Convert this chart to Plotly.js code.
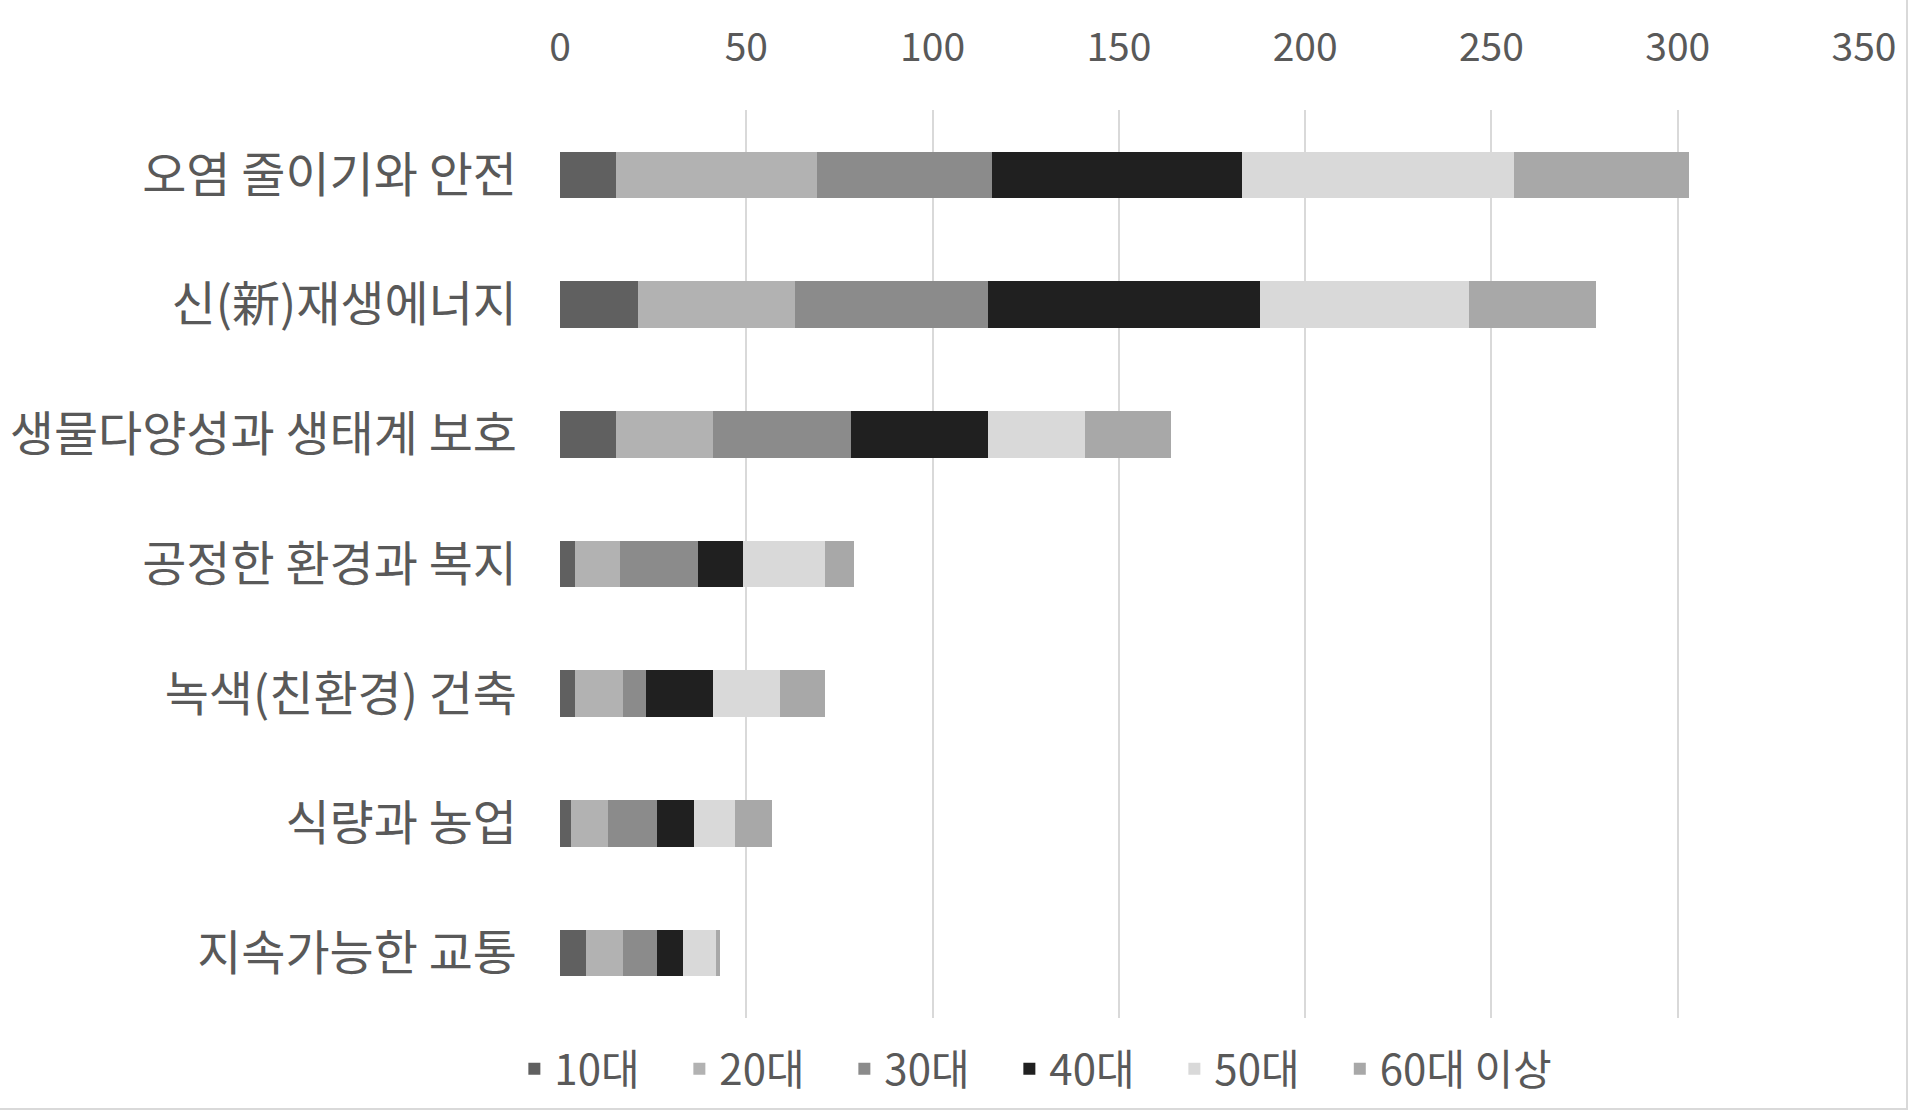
<!DOCTYPE html>
<html>
<head>
<meta charset="utf-8">
<script src="https://cdn.plot.ly/plotly-3.0.1.min.js"></script>
<style>
  body { margin: 0; background: #fff; }
  #chart { width: 1920px; height: 1115px; }
  #frame {
    position: absolute; left: 0; top: 0;
    width: 1906px; height: 1108px;
    border-right: 2px solid #d9d9d9;
    border-bottom: 2px solid #d9d9d9;
    pointer-events: none;
  }
</style>
</head>
<body>
<div id="chart"></div>
<div id="frame"></div>
<script>
// categories, top to bottom
const categories = [
  '오염 줄이기와 안전',
  '신(新)재생에너지',
  '생물다양성과 생태계 보호',
  '공정한 환경과 복지',
  '녹색(친환경) 건축',
  '식량과 농업',
  '지속가능한 교통'
];

const ageGroups = ['10대', '20대', '30대', '40대', '50대', '60대 이상'];
const ageColors = ['#606060', '#b2b2b2', '#8b8b8b', '#202020', '#d9d9d9', '#a8a8a8'];

// counts per age group, same order as categories
const teens   = [15, 21, 15, 4, 4, 3, 7];
const twenties = [54, 42, 26, 12, 13, 10, 10];
const thirties = [47, 52, 37, 21, 6, 13, 9];
const forties  = [67, 73, 37, 12, 18, 10, 7];
const fifties  = [73, 56, 26, 22, 18, 11, 9];
const sixtiesPlus = [47, 34, 23, 8, 12, 10, 1];

const xTicks = [0, 50, 100, 150, 200, 250, 300, 350];

const seriesData = [teens, twenties, thirties, forties, fifties, sixtiesPlus];

// last group goes into its own legend so its longer label isn't cut by entrywidth
const traces = seriesData.map((vals, i) => ({
  type: 'bar',
  orientation: 'h',
  name: ageGroups[i],
  x: vals,
  y: categories,
  marker: { color: ageColors[i], line: { width: 0 } },
  legend: i === seriesData.length - 1 ? 'legend2' : 'legend',
  hoverinfo: 'x+name'
}));

const legendFont = { size: 42, color: '#595959' };

const layout = {
  barmode: 'stack',
  bargap: 0.64,
  width: 1920,
  height: 1115,
  paper_bgcolor: '#ffffff',
  plot_bgcolor: '#ffffff',
  font: { family: '"Noto Sans CJK KR", "Noto Sans", sans-serif', color: '#595959' },
  margin: { l: 560, r: 56, t: 110, b: 91 },
  xaxis: {
    side: 'top',
    range: [0, 350],
    tickmode: 'array',
    tickvals: xTicks,
    ticks: '',
    ticklabelstandoff: 40,
    tickfont: { size: 39, color: '#595959' },
    showgrid: true,
    gridcolor: '#d9d9d9',
    gridwidth: 2,
    zeroline: false,
    showline: false,
    fixedrange: true
  },
  yaxis: {
    autorange: 'reversed',
    ticks: '',
    ticklabelstandoff: 42,
    tickfont: { size: 48, color: '#595959' },
    showgrid: false,
    showline: false,
    zeroline: false,
    fixedrange: true
  },
  showlegend: true,
  legend: {
    orientation: 'h',
    xref: 'paper',
    x: -0.035,
    xanchor: 'left',
    y: -0.056,
    yanchor: 'middle',
    traceorder: 'normal',
    font: legendFont,
    itemwidth: 30,
    entrywidth: 120,
    itemclick: false,
    itemdoubleclick: false
  },
  legend2: {
    orientation: 'h',
    xref: 'paper',
    x: 0.598,
    xanchor: 'left',
    y: -0.056,
    yanchor: 'middle',
    font: legendFont,
    itemwidth: 30,
    itemclick: false,
    itemdoubleclick: false
  }
};

Plotly.newPlot('chart', traces, layout, { displayModeBar: false, staticPlot: true });
</script>
</body>
</html>
